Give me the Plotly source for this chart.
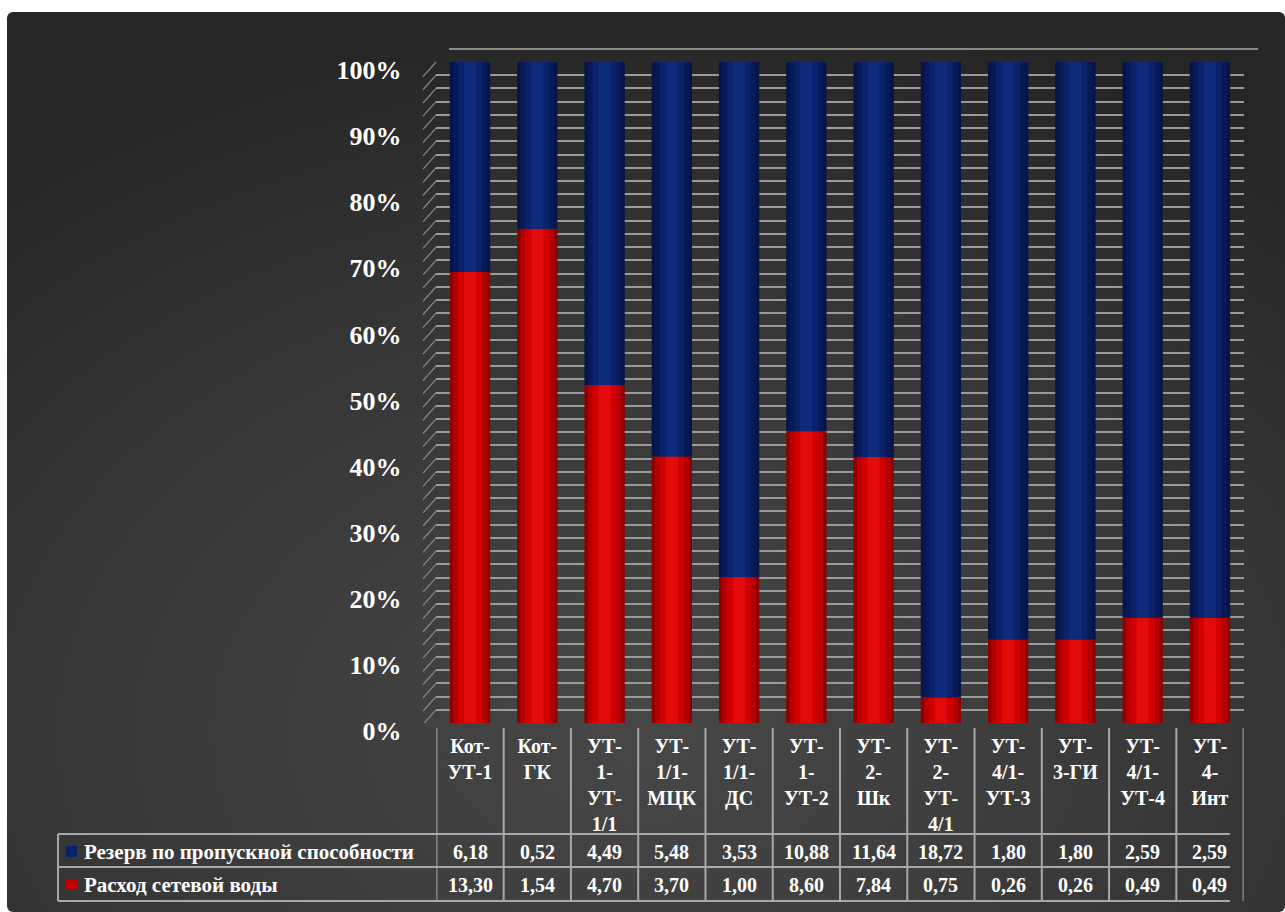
import base64
import plotly.graph_objects as go

# ---------------- data ----------------
categories = ["Кот-<br>УТ-1", "Кот-<br>ГК", "УТ-<br>1-<br>УТ-<br>1/1", "УТ-<br>1/1-<br>МЦК",
              "УТ-<br>1/1-<br>ДС", "УТ-<br>1-<br>УТ-2", "УТ-<br>2-<br>Шк", "УТ-<br>2-<br>УТ-<br>4/1",
              "УТ-<br>4/1-<br>УТ-3", "УТ-<br>3-ГИ", "УТ-<br>4/1-<br>УТ-4", "УТ-<br>4-<br>Инт"]
reserve = [6.18, 0.52, 4.49, 5.48, 3.53, 10.88, 11.64, 18.72, 1.80, 1.80, 2.59, 2.59]
flow = [13.30, 1.54, 4.70, 3.70, 1.00, 8.60, 7.84, 0.75, 0.26, 0.26, 0.49, 0.49]
series_names = ["Резерв по пропускной способности", "Расход сетевой воды"]
y_ticks = [0, 10, 20, 30, 40, 50, 60, 70, 80, 90, 100]
y_ticktext = [f"{v}%" for v in y_ticks]

# ---------------- geometry helpers ----------------
W, H = 1285, 912
def px(x): return x / W
def py(y): return 1 - y / H

RED = "#c00000"
BLUE = "#0b2268"
FONT = "Liberation Serif"
GRID = "#a8a8a8"

n = len(categories)
idx = list(range(n))
total = [a + b for a, b in zip(reserve, flow)]
red_pct = [f / t * 100 for f, t in zip(flow, total)]
blue_pct = [r / t * 100 for r, t in zip(reserve, total)]

fig = go.Figure()

# cylinder-like bars: shaded layers (dark edge, mid, bright core)
layers = [(0.60, "#8e0000", "#061547"), (0.50, "#b40000", "#08195a"),
          (0.36, "#d00000", "#0b2169"), (0.18, "#e20a0a", "#0e2a7c")]
for k, (w, rc, bc) in enumerate(layers):
    fig.add_trace(go.Bar(x=idx, y=red_pct, base=[0] * n, width=w,
                         marker=dict(color=rc, line=dict(width=0)),
                         name=series_names[1], showlegend=False,
                         customdata=flow,
                         hovertemplate="%{customdata}<extra>" + series_names[1] + "</extra>"))
    fig.add_trace(go.Bar(x=idx, y=blue_pct, base=red_pct, width=w,
                         marker=dict(color=bc, line=dict(width=0)),
                         name=series_names[0], showlegend=False,
                         customdata=reserve,
                         hovertemplate="%{customdata}<extra>" + series_names[0] + "</extra>"))

# ---------------- data table (text as annotations, grid as layout lines) ----------------
def fmt(v):
    return f"<b>{v:.2f}</b>".replace(".", ",")

annotations = []
table_rows = [(series_names[0], reserve, 851.5, BLUE), (series_names[1], flow, 884.5, RED)]
for name, vals, yc, col in table_rows:
    annotations.append(dict(x=px(82), y=py(yc), xref="paper", yref="paper",
                            text="<b>" + name + "</b>", showarrow=False,
                            xanchor="left", yanchor="middle",
                            font=dict(family=FONT, size=21, color="white")))
    for i, v in enumerate(vals):
        annotations.append(dict(x=i, y=py(yc), xref="x2", yref="paper",
                                text=fmt(v), showarrow=False,
                                xanchor="center", yanchor="middle",
                                font=dict(family=FONT, size=20, color="white")))

# background gradient via svg image
svg = ("<svg xmlns='http://www.w3.org/2000/svg' width='1278' height='900'>"
       "<defs><radialGradient id='g' cx='0.5' cy='0.8' r='0.8'>"
       "<stop offset='0' stop-color='#474747'/><stop offset='0.6' stop-color='#363636'/>"
       "<stop offset='1' stop-color='#262626'/></radialGradient></defs>"
       "<rect width='1278' height='900' rx='6' fill='url(#g)'/></svg>")
src = "data:image/svg+xml;base64," + base64.b64encode(svg.encode()).decode()

shapes = []
# column separators (header area + table)
for i in range(n + 1):
    shapes.append(dict(type="line", xref="x2", yref="paper", x0=i - 0.5, x1=i - 0.5,
                       y0=py(901), y1=py(728), line=dict(color=GRID, width=2)))
# table outer-left border and horizontal rules
shapes.append(dict(type="line", xref="paper", yref="paper", x0=px(58), x1=px(58),
                   y0=py(901), y1=py(834), line=dict(color=GRID, width=2)))
for yy in (834, 867, 901):
    shapes.append(dict(type="line", xref="paper", yref="paper", x0=px(58), x1=px(1230),
                       y0=py(yy), y1=py(yy), line=dict(color=GRID, width=2)))
# top edge of back wall
shapes.append(dict(type="line", xref="paper", yref="paper", x0=px(449), x1=px(1258),
                   y0=py(49), y1=py(49), line=dict(color="#8a8a8a", width=2)))
# side-wall diagonals (3D depth effect)
for v in range(0, 102, 2):
    shapes.append(dict(type="line", xref="paper", yref="y", x0=px(423), x1=px(436),
                       y0=v - 2.2, y1=v, line=dict(color="#8a8a8a", width=1.2)))
# legend keys in the table
shapes.append(dict(type="rect", xref="paper", yref="paper", x0=px(66), x1=px(77),
                   y0=py(857), y1=py(846), fillcolor=BLUE, line=dict(width=0)))
shapes.append(dict(type="rect", xref="paper", yref="paper", x0=px(66), x1=px(77),
                   y0=py(890), y1=py(879), fillcolor=RED, line=dict(width=0)))

fig.update_layout(
    width=W, height=H,
    margin=dict(l=0, r=0, t=0, b=0, autoexpand=False),
    paper_bgcolor="white",
    plot_bgcolor="rgba(0,0,0,0)",
    barmode="overlay",
    showlegend=False,
    images=[dict(source=src, xref="paper", yref="paper", x=px(7), y=py(12),
                 sizex=px(W - 7), sizey=(H - 12) / H, sizing="stretch",
                 xanchor="left", yanchor="top", layer="below")],
    shapes=shapes,
    annotations=annotations,
    xaxis=dict(domain=[px(436.4), px(1243.6)], range=[-0.5, n - 0.5],
               showticklabels=False, showgrid=False, zeroline=False,
               showline=False, anchor="y", fixedrange=True, automargin=False),
    xaxis2=dict(domain=[px(424), px(1229)], range=[-0.5, n - 0.5], overlaying="x",
                anchor="y", side="bottom", tickmode="array", tickvals=idx,
                ticktext=categories, showgrid=False, zeroline=False, showline=False,
                ticks="", ticklabelstandoff=9, automargin=False,
                tickfont=dict(family=FONT, size=20, color="white", weight="bold")),
    yaxis=dict(domain=[py(723), py(62)], range=[0, 100],
               tickmode="array", tickvals=y_ticks, ticktext=y_ticktext,
               tickfont=dict(family=FONT, size=26, color="white", weight="bold"),
               ticks="", ticklabelstandoff=34, ticklabelshift=8, automargin=False,
               showgrid=True, gridcolor="#9a9a9a", gridwidth=1.5,
               minor=dict(dtick=2, showgrid=True, gridcolor="#9a9a9a", gridwidth=1.5),
               zeroline=False, showline=False, fixedrange=True),
)

fig.write_html("out.html")
